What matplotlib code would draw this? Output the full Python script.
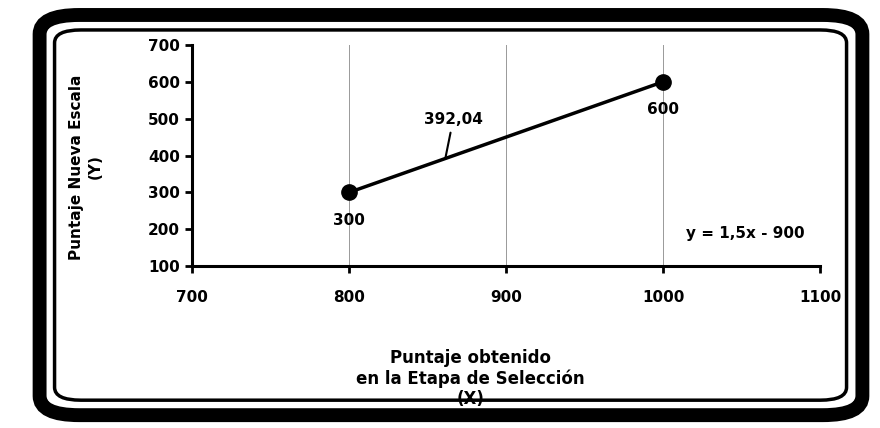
import matplotlib.pyplot as plt
from matplotlib.patches import FancyBboxPatch

# data
x_vals = [800, 1000]
y_vals = [300, 600]
point_labels = ['300', '600']
x_ticks = [700, 800, 900, 1000, 1100]
y_ticks = [100, 200, 300, 400, 500, 600, 700]
mid_x = 861.36
mid_label = '392,04'
equation = 'y = 1,5x - 900'

plt.rcParams['font.family'] = 'DejaVu Sans'

fig = plt.figure(figsize=(8.8, 4.28), dpi=100)
ax = fig.add_axes([0.218, 0.378, 0.714, 0.517])

# line with the two points
ax.plot(x_vals, y_vals, color='black', lw=2.5, marker='o', ms=11, zorder=3)

for xv, yv, lab in zip(x_vals, y_vals, point_labels):
    ax.text(xv, yv - 55, lab, ha='center', va='top', fontsize=11,
            fontweight='bold')

# callout on the line
mid_y = 1.5 * mid_x - 900
ax.annotate(mid_label, xy=(mid_x, mid_y), xytext=(mid_x + 5, mid_y + 85),
            ha='center', va='bottom', fontsize=11, fontweight='bold',
            arrowprops=dict(arrowstyle='-', color='black', lw=1.5,
                            shrinkA=2, shrinkB=0))

ax.text(1090, 190, equation, ha='right', va='center', fontsize=11,
        fontweight='bold')

ax.set_xlim(700, 1100)
ax.set_ylim(100, 700)
ax.set_xticks(x_ticks)
ax.set_yticks(y_ticks)
ax.grid(axis='x', color='#999999', lw=0.7)
ax.set_axisbelow(True)
for side in ['top', 'right']:
    ax.spines[side].set_visible(False)
for side in ['left', 'bottom']:
    ax.spines[side].set_linewidth(2.2)
ax.tick_params(axis='both', width=2, length=5, labelsize=11)
ax.tick_params(axis='x', pad=12)
for lab in ax.get_xticklabels() + ax.get_yticklabels():
    lab.set_fontweight('bold')

fig.text(0.098, 0.61, 'Puntaje Nueva Escala\n(Y)', rotation=90, ha='center',
         va='center', fontsize=11, fontweight='bold', linespacing=1.3)
fig.text(0.535, 0.115, 'Puntaje obtenido\nen la Etapa de Selección\n(X)',
         ha='center', va='center', fontsize=12, fontweight='bold',
         linespacing=1.15)

# the rounded double frame
outer = FancyBboxPatch((0.045, 0.03), 0.935, 0.935,
                       boxstyle='round,pad=0,rounding_size=0.045',
                       transform=fig.transFigure, fill=False, lw=10,
                       ec='black')
inner = FancyBboxPatch((0.062, 0.065), 0.9, 0.865,
                       boxstyle='round,pad=0,rounding_size=0.03',
                       transform=fig.transFigure, fill=False, lw=2.5,
                       ec='black')
fig.patches.extend([outer, inner])

fig.savefig('out.png', dpi=100)
